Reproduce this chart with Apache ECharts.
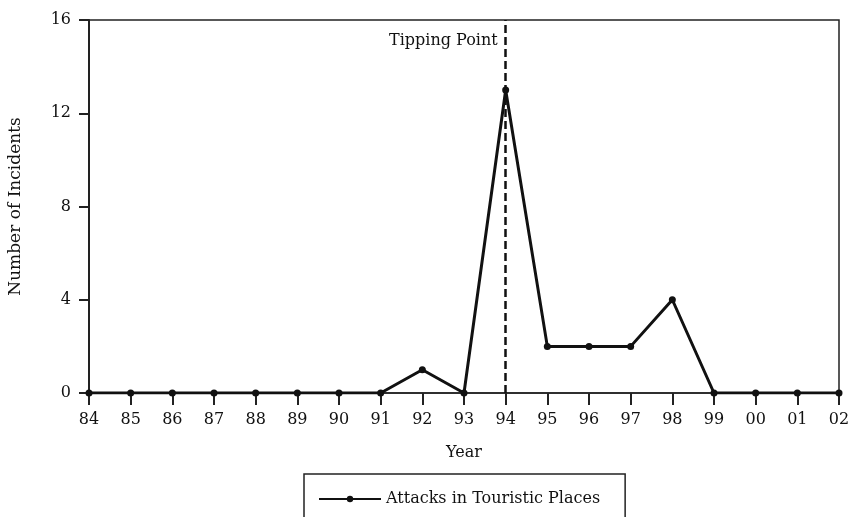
<!DOCTYPE html>
<html><head><meta charset="utf-8">
<script src="https://cdn.jsdelivr.net/npm/echarts@6/dist/echarts.min.js"></script>
<style>html,body{margin:0;padding:0;background:#fff}#c{width:850px;height:517px}</style>
</head><body><div id="c"></div>
<script>
const years = ['84','85','86','87','88','89','90','91','92','93','94','95','96','97','98','99','00','01','02'];
const attacks = [0,0,0,0,0,0,0,0,1,0,13,2,2,2,4,0,0,0,0];
const yTicks = [0,4,8,12,16];
const tippingYear = '94';
const seriesName = 'Attacks in Touristic Places';
const FONT = 'DejaVu Serif';
const TXT = {fontFamily:FONT,fontSize:16,fontWeight:'normal',color:'#111'};
const chart = echarts.init(document.getElementById('c'));
chart.setOption({
  animation:false,
  backgroundColor:'#fff',
  grid:{left:89,right:11,top:20,bottom:124,outerBoundsMode:'none',show:true,borderColor:'#222',borderWidth:1.5,backgroundColor:'transparent'},
  xAxis:{type:'category',data:years,boundaryGap:false,
    name:'Year',nameLocation:'middle',nameGap:52,
    nameTextStyle:TXT,
    axisLine:{lineStyle:{color:'#222',width:1.5}},
    axisTick:{show:true,alignWithLabel:true,length:12,lineStyle:{color:'#222',width:2}},
    axisLabel:{fontFamily:FONT,fontSize:16,color:'#111',margin:19,interval:0},
    splitLine:{show:false}},
  yAxis:{type:'value',min:0,max:16,interval:4,
    name:'Number of Incidents',nameLocation:'middle',nameGap:65,
    nameTextStyle:Object.assign({},TXT,{fontSize:17}),
    axisLine:{show:true,lineStyle:{color:'#222',width:2}},
    axisTick:{show:true,length:10,lineStyle:{color:'#222',width:2}},
    axisLabel:{fontFamily:FONT,fontSize:16,color:'#111',margin:18,
      formatter:v=>yTicks.includes(v)?String(v):''},
    splitLine:{show:false}},
  legend:{bottom:-14,left:304,itemWidth:62,itemHeight:8,itemGap:10,
    padding:[17,25,24,14],borderColor:'#222',borderWidth:1.5,
    textStyle:Object.assign({},TXT,{fontSize:16}),
    data:[{name:seriesName}]},
  series:[{name:seriesName,type:'line',data:attacks,
    symbol:'circle',symbolSize:7,
    lineStyle:{color:'#111',width:3},itemStyle:{color:'#111'},
    markLine:{silent:true,symbol:['none','none'],
      lineStyle:{type:[8,4],color:'#111',width:2.5},
      label:{show:false},
      data:[[{coord:[tippingYear,0]},{coord:[tippingYear,16]}]]},
    markPoint:{silent:true,symbol:'circle',symbolSize:0,
      data:[{coord:[tippingYear,16],value:'Tipping Point'}],
      label:Object.assign({show:true,position:'left',distance:0,offset:[-8,21],
        formatter:'Tipping Point'},TXT,{fontSize:16})}
  }]
});
</script></body></html>
